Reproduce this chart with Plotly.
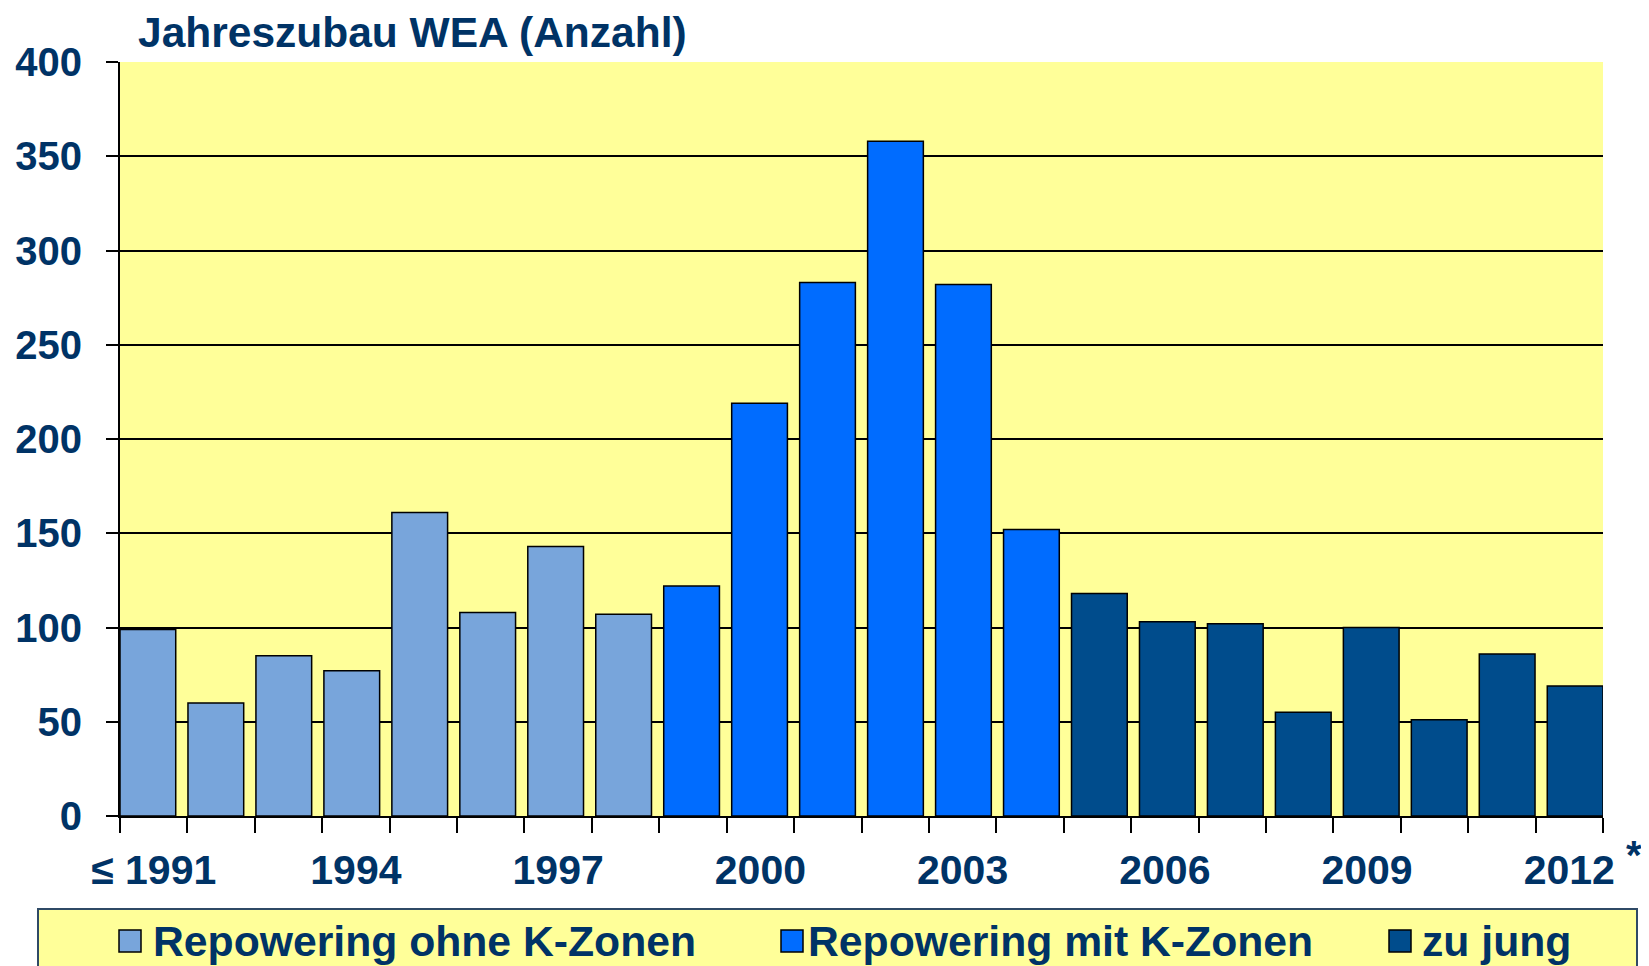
import plotly.graph_objects as go

years = list(range(1991, 2013))
values = [99, 60, 85, 77, 161, 108, 143, 107, 122, 219, 283, 358, 282, 152,
          118, 103, 102, 55, 100, 51, 86, 69]
groups = ["Repowering ohne K-Zonen"] * 8 + ["Repowering mit K-Zonen"] * 6 + ["zu jung"] * 8
series_names = ["Repowering ohne K-Zonen", "Repowering mit K-Zonen", "zu jung"]
series_colors = ["#78A5DB", "#006CFF", "#004C8C"]
tick_years = [1991, 1994, 1997, 2000, 2003, 2006, 2009, 2012]
tick_labels = ["≤ 1991", "1994", "1997", "2000", "2003", "2006", "2009", "2012"]
y_ticks = [0, 50, 100, 150, 200, 250, 300, 350, 400]

TEXT = "#003366"
FONT = "Liberation Sans, Arial, sans-serif"
BAR_W = 0.82

n = len(years)
x_lo, x_hi = -BAR_W / 2, (n - 1) + BAR_W / 2
slot = (x_hi - x_lo) / n
label_pos = [x_lo + (years.index(y) + 0.5) * slot for y in tick_years]

fig = go.Figure()
for name, color in zip(series_names, series_colors):
    xs = [i for i, g in enumerate(groups) if g == name]
    ys = [values[i] for i in xs]
    fig.add_trace(go.Bar(x=xs, y=ys, name=name,
                         marker=dict(color=color, line=dict(color="black", width=1.5)),
                         width=BAR_W, showlegend=False))

OFF = 8  # page body margin
W, H = 1649 - OFF, 966 - OFF
# plot area in page pixels: x 120..1603, y 62..816
L, T = 120 - OFF, 62 - OFF
R = W - (1603 - OFF)
B = H - (816 - OFF)
pw, ph = W - L - R, H - T - B

def px_x(p):  # page px -> paper
    return (p - OFF - L) / pw

def px_y(p):
    return (H - B - (p - OFF)) / ph

fig.update_layout(
    width=W, height=H,
    margin=dict(l=L, r=R, t=T, b=B, autoexpand=False),
    paper_bgcolor="white",
    plot_bgcolor="#FFFF99",
    font=dict(family=FONT, color=TEXT),
    barmode="overlay",
    xaxis=dict(
        range=[x_lo, x_hi],
        automargin=False,
        tickmode="array",
        tickvals=label_pos,
        ticktext=tick_labels,
        ticks="",
        tickfont=dict(size=41, family=FONT, color=TEXT, weight="bold"),
        showline=True, linecolor="black", linewidth=2,
        showgrid=False, zeroline=False,
        ticklabelstandoff=17,
        minor=dict(ticks="outside", tickmode="linear", tick0=x_lo, dtick=slot,
                   ticklen=15, tickwidth=2, tickcolor="black", showgrid=False),
    ),
    yaxis=dict(
        range=[0, 400],
        automargin=False,
        tickmode="array",
        tickvals=y_ticks,
        ticks="outside", ticklen=12, tickwidth=2, tickcolor="black",
        tickfont=dict(size=40, family=FONT, color=TEXT, weight="bold"),
        showline=True, linecolor="black", linewidth=2,
        showgrid=True, gridcolor="black", gridwidth=2,
        zeroline=False,
        ticklabelstandoff=16,
    ),
)

# title
fig.add_annotation(text="Jahreszubau WEA (Anzahl)", xref="paper", yref="paper",
                   x=px_x(136), y=px_y(32), xanchor="left", yanchor="middle",
                   showarrow=False, font=dict(size=42.5, color=TEXT, family=FONT, weight="bold"))
# asterisk
fig.add_annotation(text="*", xref="paper", yref="paper", x=px_x(1634), y=px_y(855),
                   xanchor="center", yanchor="middle", showarrow=False,
                   font=dict(size=40, color=TEXT, family=FONT, weight="bold"))

# manual legend box
fig.add_shape(type="rect", xref="paper", yref="paper",
              x0=px_x(38), x1=px_x(1637), y0=px_y(909), y1=px_y(990),
              fillcolor="#FFFF99", line=dict(color="#2F4A66", width=2), layer="below")
legend_sq_x = [119, 781, 1389]
legend_txt_x = [151, 806, 1420]
for name, color, sx, tx in zip(series_names, series_colors, legend_sq_x, legend_txt_x):
    fig.add_shape(type="rect", xref="paper", yref="paper",
                  x0=px_x(sx), x1=px_x(sx + 22), y0=px_y(952), y1=px_y(930),
                  fillcolor=color, line=dict(color="black", width=1.5))
    fig.add_annotation(text=name, xref="paper", yref="paper", x=px_x(tx), y=px_y(941),
                       xanchor="left", yanchor="middle", showarrow=False,
                       font=dict(size=42.7, color=TEXT, family=FONT, weight="bold"))

fig.write_html("out.html")
